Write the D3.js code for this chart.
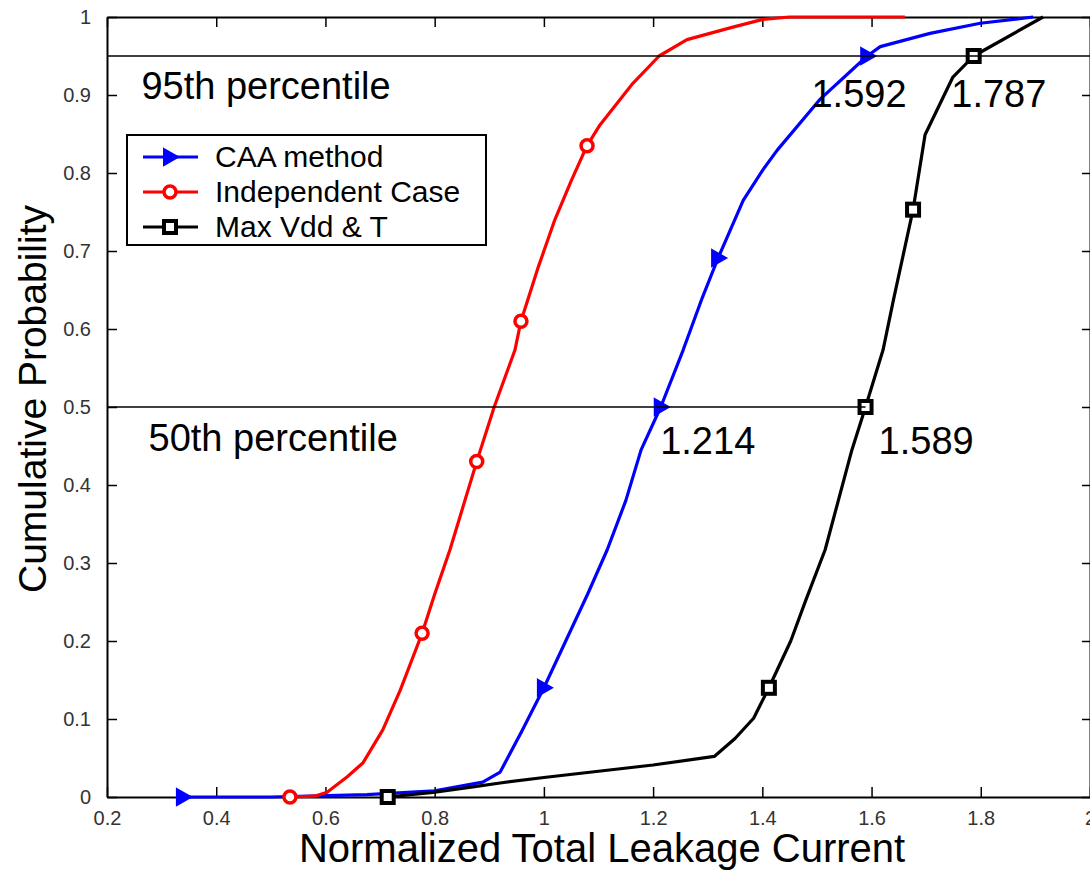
<!DOCTYPE html>
<html>
<head>
<meta charset="utf-8">
<script src="https://cdn.jsdelivr.net/npm/d3@7"></script>
<style>
  body { margin: 0; background: #fff; }
  svg { font-family: "Liberation Sans", Arial, sans-serif; }
</style>
</head>
<body>
<div id="chart"></div>
<script>
var width = 1090;
var height = 871;

// CAA method
var caaX = [0.339, 0.5, 0.676, 0.8, 0.888, 0.92, 0.96, 1.0, 1.04, 1.08, 1.116, 1.15, 1.178, 1.214, 1.255, 1.29, 1.319, 1.365, 1.401, 1.427, 1.505, 1.592, 1.616, 1.707, 1.799, 1.896];
var caaY = [0, 0, 0.003, 0.008, 0.019, 0.032, 0.085, 0.14, 0.2, 0.26, 0.317, 0.38, 0.445, 0.5, 0.573, 0.64, 0.691, 0.765, 0.804, 0.829, 0.894, 0.95, 0.962, 0.979, 0.992, 1.0];
var caaMarks = [0, 7, 13, 16, 21];

// Independent case
var indX = [0.535, 0.58, 0.603, 0.64, 0.669, 0.705, 0.737, 0.777, 0.80, 0.828, 0.877, 0.909, 0.947, 0.958, 0.99, 1.02, 1.05, 1.079, 1.103, 1.163, 1.211, 1.262, 1.346, 1.401, 1.45, 1.661];
var indY = [0, 0.001, 0.006, 0.026, 0.044, 0.086, 0.137, 0.21, 0.26, 0.317, 0.43, 0.5, 0.573, 0.61, 0.68, 0.74, 0.79, 0.835, 0.862, 0.915, 0.95, 0.971, 0.987, 0.997, 1.0, 1.0];
var indMarks = [0, 7, 10, 13, 17];

// Max Vdd & T
var maxX = [0.714, 0.797, 0.87, 0.92, 1.0, 1.1, 1.2, 1.312, 1.35, 1.384, 1.412, 1.452, 1.48, 1.515, 1.564, 1.589, 1.621, 1.64, 1.676, 1.698, 1.749, 1.787, 1.914];
var maxY = [0, 0.006, 0.013, 0.018, 0.025, 0.033, 0.041, 0.052, 0.075, 0.101, 0.14, 0.2, 0.253, 0.317, 0.445, 0.5, 0.573, 0.637, 0.753, 0.849, 0.923, 0.95, 1.0];
var maxMarks = [0, 10, 15, 18, 21];

var xTicks = [0.2, 0.4, 0.6, 0.8, 1, 1.2, 1.4, 1.6, 1.8, 2];
var yTicks = [0, 0.1, 0.2, 0.3, 0.4, 0.5, 0.6, 0.7, 0.8, 0.9, 1];

var legendNames = ["CAA method", "Independent Case", "Max Vdd & T"];
var legendColors = ["#0000ff", "#ff0000", "#000000"];
var legendShapes = ["tri", "circle", "square"];

var notes = [
    {text: "95th percentile", x: 0.263, y: 0.895},
    {text: "50th percentile", x: 0.276, y: 0.444},
    {text: "1.592", x: 1.577, y: 0.885},
    {text: "1.787", x: 1.833, y: 0.885},
    {text: "1.214", x: 1.3, y: 0.44},
    {text: "1.589", x: 1.70, y: 0.44}
];

var svg = d3.select("#chart")
    .append("svg")
    .attr("width", width)
    .attr("height", height);

var scaleX = d3.scaleLinear().domain([0.2, 2]).range([107, 1090]);
var scaleY = d3.scaleLinear().domain([0, 1]).range([797, 17]);

drawAxes();
drawSeries(caaX, caaY, caaMarks, "#0000ff", "tri");
drawSeries(indX, indY, indMarks, "#ff0000", "circle");
drawSeries(maxX, maxY, maxMarks, "#000000", "square");
drawRefLines();
drawNotes();
drawLegend();

function drawAxes(){
    var bottom = d3.axisBottom(scaleX).tickValues(xTicks).tickSizeInner(-10).tickSizeOuter(0)
        .tickPadding(14).tickFormat(d3.format("~g"));
    var top = d3.axisTop(scaleX).tickValues(xTicks).tickSizeInner(-10).tickSizeOuter(0).tickFormat("");
    var left = d3.axisLeft(scaleY).tickValues(yTicks).tickSizeInner(-10).tickSizeOuter(0)
        .tickPadding(16).tickFormat(d3.format("~g"));
    var right = d3.axisRight(scaleY).tickValues(yTicks).tickSizeInner(-8).tickSizeOuter(0).tickFormat("");

    var gb = svg.append("g").attr("transform", "translate(0," + scaleY(0) + ")").call(bottom);
    var gt = svg.append("g").attr("transform", "translate(0," + scaleY(1) + ")").call(top);
    var gl = svg.append("g").attr("transform", "translate(" + scaleX(0.2) + ",0)").call(left);
    var gr = svg.append("g").attr("transform", "translate(" + scaleX(2) + ",0)").call(right);

    [gb, gt, gl, gr].forEach(function(g){
        g.select(".domain").attr("stroke", "#000").attr("stroke-width", 2);
        g.selectAll(".tick line").attr("stroke", "#000").attr("stroke-width", 1.5);
        g.selectAll(".tick text").attr("fill", "#333").style("font-size", "20px");
    });

    svg.append("text")
        .attr("x", 602)
        .attr("y", 862)
        .attr("text-anchor", "middle")
        .style("font-size", "40px")
        .text("Normalized Total Leakage Current");

    svg.append("text")
        .attr("transform", "translate(46,399) rotate(-90)")
        .attr("text-anchor", "middle")
        .style("font-size", "39px")
        .text("Cumulative Probability");
}

function drawSeries(xs, ys, marks, color, shape){
    var pts = xs.map(function(x, i){ return [x, ys[i]]; });
    var line = d3.line()
        .x(function(d){ return scaleX(d[0]); })
        .y(function(d){ return scaleY(d[1]); });

    svg.append("path")
        .datum(pts)
        .attr("fill", "none")
        .attr("stroke", color)
        .attr("stroke-width", 3.2)
        .attr("stroke-linejoin", "round")
        .attr("d", line);

    marks.forEach(function(i){
        drawMarker(svg, scaleX(pts[i][0]), scaleY(pts[i][1]), color, shape);
    });
}

function drawMarker(parent, cx, cy, color, shape){
    if(shape == "tri"){
        parent.append("path")
            .attr("d", "M" + (cx - 6) + "," + (cy - 8) + "L" + (cx + 8) + "," + cy + "L" + (cx - 6) + "," + (cy + 8) + "Z")
            .attr("fill", color)
            .attr("stroke", color)
            .attr("stroke-width", 2);
    } else if(shape == "circle"){
        parent.append("circle")
            .attr("cx", cx).attr("cy", cy).attr("r", 6)
            .attr("fill", "#fff")
            .attr("stroke", color)
            .attr("stroke-width", 3.5);
    } else {
        parent.append("rect")
            .attr("x", cx - 6).attr("y", cy - 6)
            .attr("width", 12).attr("height", 12)
            .attr("fill", "#fff")
            .attr("stroke", color)
            .attr("stroke-width", 4);
    }
}

function drawRefLines(){
    svg.append("line")
        .attr("x1", scaleX(0.2)).attr("x2", scaleX(2))
        .attr("y1", scaleY(0.95)).attr("y2", scaleY(0.95))
        .attr("stroke", "#000").attr("stroke-width", 1.5);
    svg.append("line")
        .attr("x1", scaleX(0.2)).attr("x2", scaleX(1.589))
        .attr("y1", scaleY(0.5)).attr("y2", scaleY(0.5))
        .attr("stroke", "#000").attr("stroke-width", 1.5);
}

function drawNotes(){
    svg.selectAll(".note")
        .data(notes)
        .enter()
        .append("text")
        .attr("class", "note")
        .attr("x", function(d){ return scaleX(d.x); })
        .attr("y", function(d){ return scaleY(d.y); })
        .attr("text-anchor", function(d){ return d.text.length > 5 ? "start" : "middle"; })
        .style("font-size", "38px")
        .text(function(d){ return d.text; });
}

function drawLegend(){
    var lg = svg.append("g");
    lg.append("rect")
        .attr("x", 127).attr("y", 135)
        .attr("width", 359).attr("height", 110)
        .attr("fill", "#fff")
        .attr("stroke", "#000")
        .attr("stroke-width", 2);

    legendNames.forEach(function(name, i){
        var y = 157 + i * 35;
        lg.append("line")
            .attr("x1", 143).attr("x2", 198)
            .attr("y1", y).attr("y2", y)
            .attr("stroke", legendColors[i])
            .attr("stroke-width", 3);
        drawMarker(lg, 170, y, legendColors[i], legendShapes[i]);
        lg.append("text")
            .attr("x", 215)
            .attr("y", y + 10)
            .style("font-size", "30px")
            .text(name);
    });
}
</script>
</body>
</html>
